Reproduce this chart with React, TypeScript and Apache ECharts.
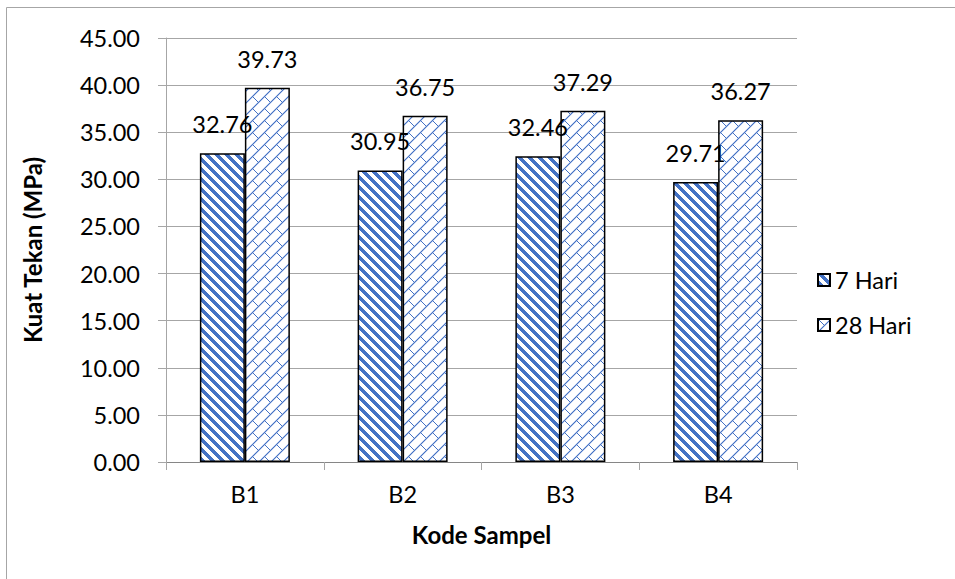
import React, { useEffect, useRef } from "react";
import * as echarts from "echarts";

const categories = ["B1", "B2", "B3", "B4"];
const seriesNames = ["7 Hari", "28 Hari"];
const values7 = [32.76, 30.95, 32.46, 29.71];
const values28 = [39.73, 36.75, 37.29, 36.27];

const BLUE = "#4472C4";
const FONT = "Lato";
const FS = 23.5;

function stripePattern() {
  const P = 10;
  const c = document.createElement("canvas");
  c.width = P;
  c.height = P;
  const ctx = c.getContext("2d")!;
  ctx.fillStyle = "#ffffff";
  ctx.fillRect(0, 0, P, P);
  ctx.fillStyle = BLUE;
  for (let y = 0; y < P; y++) {
    for (let x = 0; x < P; x++) {
      const d = (((x - y) % P) + P) % P;
      if (d < 5) ctx.fillRect(x, y, 1, 1);
    }
  }
  return { image: c, repeat: "repeat", imageWidth: P, imageHeight: P };
}

function brickPattern() {
  const P = 12;
  const c = document.createElement("canvas");
  c.width = P;
  c.height = P;
  const ctx = c.getContext("2d")!;
  ctx.fillStyle = "#ffffff";
  ctx.fillRect(0, 0, P, P);
  for (let y = 0; y < P; y++) {
    for (let x = 0; x < P; x++) {
      const onSlash = (x + y) % P === 0;
      const onBack = x === y && x <= P / 2;
      if (onSlash || onBack) {
        ctx.fillStyle = BLUE;
        ctx.fillRect(x, y, 1, 1);
      } else if ((x + y) % P === 1 || (x + y) % P === P - 1) {
        ctx.fillStyle = "#c5d3ee";
        ctx.fillRect(x, y, 1, 1);
      }
    }
  }
  return { image: c, repeat: "repeat", imageWidth: P, imageHeight: P };
}

export default function App() {
  const ref = useRef<HTMLDivElement>(null);
  useEffect(() => {
    document.body.style.margin = "0";
    const chart = echarts.init(ref.current!, null, { renderer: "svg" });
    const labelStyle = {
      show: true,
      position: "top",
      distance: 17,
      fontSize: FS,
      fontFamily: FONT,
      color: "#000",
      formatter: (p: any) => Number(p.value).toFixed(2),
    };
    chart.setOption({
      animation: false,
      backgroundColor: "#ffffff",
      textStyle: { fontFamily: FONT },
      graphic: [
        {
          type: "rect",
          shape: { x: 6.5, y: 7.5, width: 1000, height: 1000 },
          style: { fill: "none", stroke: "#a6a6a6", lineWidth: 1 },
          silent: true,
        },
      ],
      grid: { left: 166, right: 158, top: 38, bottom: 117 },
      legend: {
        orient: "vertical",
        left: 812,
        top: 263,
        itemWidth: 12,
        itemHeight: 12,
        itemGap: 21,
        icon: "rect",
        textStyle: { fontSize: FS, fontFamily: FONT, color: "#000" },
        data: seriesNames,
      },
      xAxis: {
        type: "category",
        data: categories,
        name: "Kode Sampel",
        nameLocation: "middle",
        nameGap: 60,
        nameTextStyle: { fontSize: 24, fontWeight: "bold", fontFamily: FONT, color: "#000" },
        axisLine: { lineStyle: { color: "#868686", width: 1 } },
        axisTick: { show: true, length: 8, lineStyle: { color: "#a6a6a6" } },
        axisLabel: { fontSize: FS, fontFamily: FONT, color: "#000", margin: 20 },
      },
      yAxis: {
        type: "value",
        min: 0,
        max: 45,
        interval: 5,
        name: "Kuat Tekan (MPa)",
        nameLocation: "middle",
        nameGap: 122,
        nameTextStyle: { fontSize: 24, fontWeight: "bold", fontFamily: FONT, color: "#000" },
        axisLine: { show: true, lineStyle: { color: "#a6a6a6", width: 1 } },
        axisTick: { show: true, length: 8, lineStyle: { color: "#a6a6a6" } },
        axisLabel: {
          fontSize: FS,
          fontFamily: FONT,
          color: "#000",
          margin: 26,
          formatter: (v: number) => v.toFixed(2),
        },
        splitLine: { show: true, lineStyle: { color: "#a6a6a6", width: 1 } },
      },
      series: [
        {
          name: seriesNames[0],
          type: "bar",
          data: values7,
          barWidth: 45,
          barGap: "0%",
          itemStyle: { color: stripePattern(), borderColor: "#000", borderWidth: 1.5 },
          label: labelStyle,
        },
        {
          name: seriesNames[1],
          type: "bar",
          data: values28,
          barWidth: 45,
          barGap: "0%",
          itemStyle: { color: brickPattern(), borderColor: "#000", borderWidth: 1.5 },
          label: labelStyle,
        },
      ],
    });
    return () => chart.dispose();
  }, []);
  return <div ref={ref} style={{ width: 955, height: 579 }} />;
}
